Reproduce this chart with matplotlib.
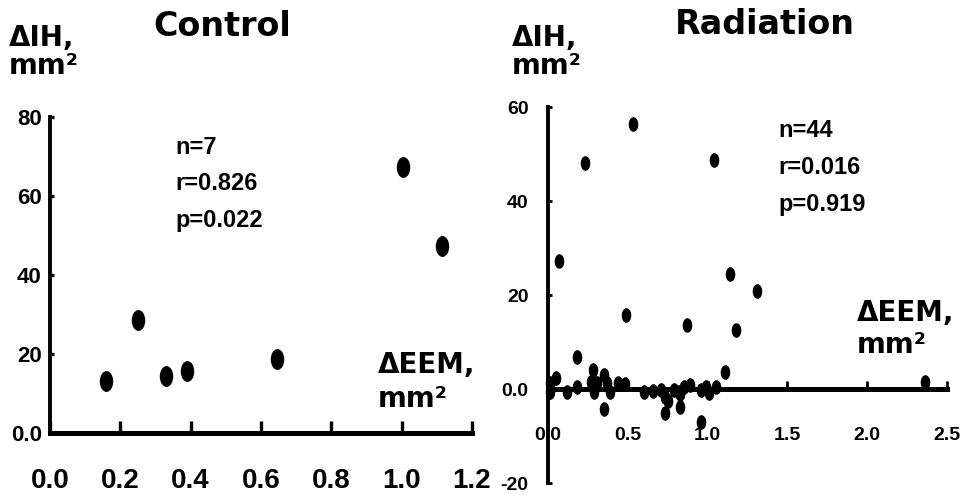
import matplotlib
matplotlib.use("Agg")
import matplotlib.pyplot as plt
import numpy as np
from matplotlib.path import Path
from matplotlib import font_manager

# ---------------- data ----------------
control_x = [0.16, 0.25, 0.33, 0.39, 0.645, 1.005, 1.114]
control_y = [13.2, 28.6, 14.4, 15.7, 18.7, 67.3, 47.3]

radiation_x = [0.23, 0.535, 1.04, 0.07, 1.14, 1.31, 0.49, 0.87, 1.18,
               0.18, 1.11, 2.36, 0.28, 0.35, 0.35, 0.73, 0.83, 0.96,
               0.01, 0.01, 0.05, 0.12, 0.18, 0.27, 0.29, 0.31, 0.37, 0.39,
               0.44, 0.48, 0.60, 0.71, 0.73, 0.75, 0.79, 0.82, 0.83, 0.85,
               0.89, 0.96, 0.99, 1.01, 1.05, 0.66]
radiation_y = [48.1, 56.4, 48.7, 27.2, 24.5, 20.9, 15.7, 13.6, 12.6,
               6.8, 3.6, 1.5, 4.0, 3.0, -4.3, -5.1, -3.8, -7.0,
               -0.6, 1.3, 2.3, -0.6, 0.4, 1.5, -0.6, 1.2, 1.3, -0.6,
               1.3, 1.0, -0.6, -0.3, -1.7, -2.5, -0.2, -0.6, -1.0, 0.4,
               0.8, -0.2, 0.4, -0.9, 0.4, -0.5]

control_xticks = [0.0, 0.2, 0.4, 0.6, 0.8, 1.0, 1.2]
control_xlabels = ["0.0", "0.2", "0.4", "0.6", "0.8", "1.0", "1.2"]
control_yticks = [0, 20, 40, 60, 80]
control_ylabels = ["0.0", "20", "40", "60", "80"]

radiation_xticks = [0.0, 0.5, 1.0, 1.5, 2.0, 2.5]
radiation_xlabels = ["0.0", "0.5", "1.0", "1.5", "2.0", "2.5"]
radiation_yticks = [-20, 0, 20, 40, 60]
radiation_ylabels = ["-20", "0.0", "20", "40", "60"]

control_stats = ["n=7", "r=0.826", "p=0.022"]
radiation_stats = ["n=44", "r=0.016", "p=0.919"]

# ---------------- style ----------------
avail = {f.name for f in font_manager.fontManager.ttflist}
narrow = [f for f in ["Liberation Sans Narrow", "Arial Narrow"] if f in avail]
NARROW = narrow + ["Liberation Sans", "DejaVu Sans"]
HEAVY = ["DejaVu Sans"]

circ = Path.unit_circle()
ell = Path(circ.vertices * np.array([0.62, 1.0]), circ.codes)

fig = plt.figure(figsize=(9.6, 4.95), dpi=100)

def px(x, y):
    return x / 960.0, 1 - y / 495.0

# ---------------- control panel ----------------
ax1 = fig.add_axes([50 / 960, (495 - 433) / 495, 422 / 960, (433 - 117) / 495])
ax1.scatter(control_x, control_y, marker=ell, s=14.0 ** 2, color="black", zorder=3, clip_on=False)
ax1.set_xlim(0, 1.2)
ax1.set_ylim(0, 80)
for s in ["top", "right"]:
    ax1.spines[s].set_visible(False)
ax1.spines["left"].set_linewidth(2.8)
ax1.spines["bottom"].set_linewidth(3.6)
ax1.set_xticks(control_xticks)
ax1.set_xticklabels(control_xlabels)
ax1.set_yticks(control_yticks)
ax1.set_yticklabels(control_ylabels)
ax1.tick_params(axis="x", direction="in", length=9, width=2.4, pad=25, labelsize=20)
ax1.tick_params(axis="y", direction="in", length=3, width=2.4, pad=6, labelsize=16)
for lab in ax1.get_xticklabels() + ax1.get_yticklabels():
    lab.set_family(NARROW)
    lab.set_fontweight("bold")

for i, t in enumerate(control_stats):
    fig.text(*px(175, 148 + i * 36), t, fontsize=17, fontweight="bold", family=NARROW,
             ha="left", va="center")

fig.text(*px(222, 26), "Control", fontsize=24, fontweight="bold", family=HEAVY, ha="center", va="center")
fig.text(*px(9, 38), "ΔIH,", fontsize=20, fontweight="bold", family=HEAVY, ha="left", va="center")
fig.text(*px(9, 66), "mm²", fontsize=20, fontweight="bold", family=HEAVY, ha="left", va="center")
fig.text(*px(378, 365), "ΔEEM,", fontsize=20, fontweight="bold", family=HEAVY, ha="left", va="center")
fig.text(*px(378, 399), "mm²", fontsize=20, fontweight="bold", family=HEAVY, ha="left", va="center")

# ---------------- radiation panel ----------------
ax2 = fig.add_axes([548 / 960, (495 - 483) / 495, 399 / 960, (483 - 107) / 495])
ax2.scatter(radiation_x, radiation_y, marker=ell, s=9.5 ** 2, color="black", zorder=3, clip_on=False)
ax2.set_xlim(0, 2.5)
ax2.set_ylim(-20, 60)
for s in ["top", "right"]:
    ax2.spines[s].set_visible(False)
ax2.spines["bottom"].set_position(("data", 0))
ax2.spines["left"].set_linewidth(2.8)
ax2.spines["bottom"].set_linewidth(3.6)
ax2.set_xticks(radiation_xticks)
ax2.set_xticklabels(radiation_xlabels)
ax2.set_yticks(radiation_yticks)
ax2.set_yticklabels(radiation_ylabels)
ax2.tick_params(axis="x", direction="in", length=6, width=2.0, pad=27, labelsize=14)
ax2.tick_params(axis="y", direction="in", length=3, width=2.0, pad=14, labelsize=14)
for lab in ax2.get_xticklabels() + ax2.get_yticklabels():
    lab.set_family(NARROW)
    lab.set_fontweight("bold")

for i, t in enumerate(radiation_stats):
    fig.text(*px(778, 131 + i * 37), t, fontsize=17, fontweight="bold", family=NARROW,
             ha="left", va="center")

fig.text(*px(765, 25), "Radiation", fontsize=24, fontweight="bold", family=HEAVY, ha="center", va="center")
fig.text(*px(512, 38), "ΔIH,", fontsize=20, fontweight="bold", family=HEAVY, ha="left", va="center")
fig.text(*px(512, 66), "mm²", fontsize=20, fontweight="bold", family=HEAVY, ha="left", va="center")
fig.text(*px(857, 313), "ΔEEM,", fontsize=20, fontweight="bold", family=HEAVY, ha="left", va="center")
fig.text(*px(857, 345), "mm²", fontsize=20, fontweight="bold", family=HEAVY, ha="left", va="center")

fig.savefig("out.png", dpi=100, facecolor="white")
